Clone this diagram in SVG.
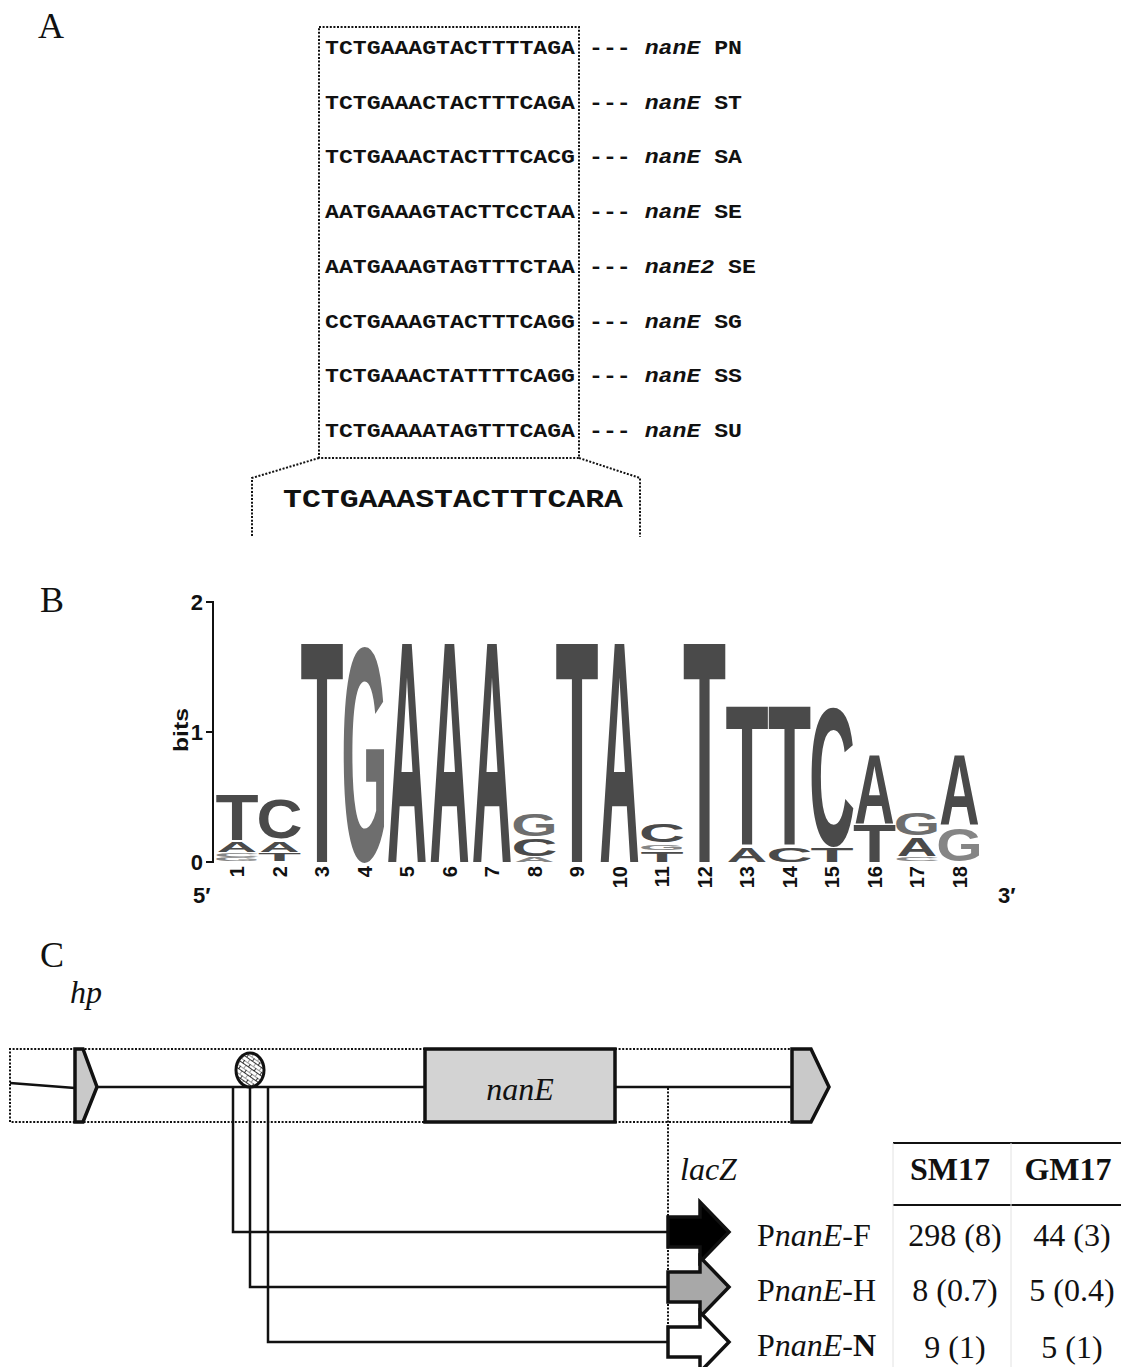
<svg xmlns="http://www.w3.org/2000/svg" width="1121" height="1367" viewBox="0 0 1121 1367">
<style>
.seq{font-family:"Liberation Mono","Courier New",monospace;font-weight:bold;font-size:19.5px;fill:#111}
.gene{font-style:italic}
.plbl{font-family:"Liberation Serif","Times New Roman",serif;font-size:36px;fill:#111}
.logo{font-family:"Liberation Sans",Arial,sans-serif;font-weight:bold;font-size:100px;text-anchor:middle}
.dk{fill:#4a4a4a}
.gg{fill:#6e6e6e}
.gl{fill:#858585}
.ax{font-family:"Liberation Sans",Arial,sans-serif;font-weight:bold;fill:#111}
.ser{font-family:"Liberation Serif","Times New Roman",serif;font-size:32px;fill:#111}
.dot{stroke:#111;stroke-width:2;stroke-dasharray:2 1.6;fill:none}
.ln{stroke:#111;stroke-width:2.5;fill:none}
.box{stroke:#111;stroke-width:3.5;stroke-linejoin:miter}
</style>
<defs>
<pattern id="hatch" patternUnits="userSpaceOnUse" width="7" height="7" patternTransform="rotate(35)">
<rect width="7" height="7" fill="#fff"/>
<path d="M0,0 H7 M3.5,0 V3.5 M0,3.5 H7 M0,3.5 V7" stroke="#222" stroke-width="0.9"/>
</pattern>
</defs>

<!-- Panel A -->
<g id="panelA">
<text class="plbl" x="38" y="38">A</text>
<rect class="dot" x="319" y="27" width="260" height="431"/>
<polyline class="dot" points="319,458 252,478 252,537"/>
<polyline class="dot" points="579,458 640,478 640,537"/>
<g id="row1" class="seq"><text x="325" y="54" textLength="250" lengthAdjust="spacingAndGlyphs">TCTGAAAGTACTTTTAGA</text><text x="589" y="54" textLength="41.7" lengthAdjust="spacingAndGlyphs">---</text><text class="gene" x="644.7" y="54" textLength="55.6" lengthAdjust="spacingAndGlyphs">nanE</text><text x="714.2" y="54" textLength="27.8" lengthAdjust="spacingAndGlyphs">PN</text></g>
<g id="row2" class="seq"><text x="325" y="108.7" textLength="250" lengthAdjust="spacingAndGlyphs">TCTGAAACTACTTTCAGA</text><text x="589" y="108.7" textLength="41.7" lengthAdjust="spacingAndGlyphs">---</text><text class="gene" x="644.7" y="108.7" textLength="55.6" lengthAdjust="spacingAndGlyphs">nanE</text><text x="714.2" y="108.7" textLength="27.8" lengthAdjust="spacingAndGlyphs">ST</text></g>
<g id="row3" class="seq"><text x="325" y="163.4" textLength="250" lengthAdjust="spacingAndGlyphs">TCTGAAACTACTTTCACG</text><text x="589" y="163.4" textLength="41.7" lengthAdjust="spacingAndGlyphs">---</text><text class="gene" x="644.7" y="163.4" textLength="55.6" lengthAdjust="spacingAndGlyphs">nanE</text><text x="714.2" y="163.4" textLength="27.8" lengthAdjust="spacingAndGlyphs">SA</text></g>
<g id="row4" class="seq"><text x="325" y="218.1" textLength="250" lengthAdjust="spacingAndGlyphs">AATGAAAGTACTTCCTAA</text><text x="589" y="218.1" textLength="41.7" lengthAdjust="spacingAndGlyphs">---</text><text class="gene" x="644.7" y="218.1" textLength="55.6" lengthAdjust="spacingAndGlyphs">nanE</text><text x="714.2" y="218.1" textLength="27.8" lengthAdjust="spacingAndGlyphs">SE</text></g>
<g id="row5" class="seq"><text x="325" y="272.8" textLength="250" lengthAdjust="spacingAndGlyphs">AATGAAAGTAGTTTCTAA</text><text x="589" y="272.8" textLength="41.7" lengthAdjust="spacingAndGlyphs">---</text><text class="gene" x="644.7" y="272.8" textLength="69.5" lengthAdjust="spacingAndGlyphs">nanE2</text><text x="728.1" y="272.8" textLength="27.8" lengthAdjust="spacingAndGlyphs">SE</text></g>
<g id="row6" class="seq"><text x="325" y="327.5" textLength="250" lengthAdjust="spacingAndGlyphs">CCTGAAAGTACTTTCAGG</text><text x="589" y="327.5" textLength="41.7" lengthAdjust="spacingAndGlyphs">---</text><text class="gene" x="644.7" y="327.5" textLength="55.6" lengthAdjust="spacingAndGlyphs">nanE</text><text x="714.2" y="327.5" textLength="27.8" lengthAdjust="spacingAndGlyphs">SG</text></g>
<g id="row7" class="seq"><text x="325" y="382.2" textLength="250" lengthAdjust="spacingAndGlyphs">TCTGAAACTATTTTCAGG</text><text x="589" y="382.2" textLength="41.7" lengthAdjust="spacingAndGlyphs">---</text><text class="gene" x="644.7" y="382.2" textLength="55.6" lengthAdjust="spacingAndGlyphs">nanE</text><text x="714.2" y="382.2" textLength="27.8" lengthAdjust="spacingAndGlyphs">SS</text></g>
<g id="row8" class="seq"><text x="325" y="436.9" textLength="250" lengthAdjust="spacingAndGlyphs">TCTGAAAATAGTTTCAGA</text><text x="589" y="436.9" textLength="41.7" lengthAdjust="spacingAndGlyphs">---</text><text class="gene" x="644.7" y="436.9" textLength="55.6" lengthAdjust="spacingAndGlyphs">nanE</text><text x="714.2" y="436.9" textLength="27.8" lengthAdjust="spacingAndGlyphs">SU</text></g>
<g id="consensus"><text class="seq" style="font-size:26px" x="283" y="507" textLength="340" lengthAdjust="spacingAndGlyphs">TCTGAAASTACTTTCARA</text></g>
</g>

<!-- Panel B -->
<g id="panelB">
<text class="plbl" x="40" y="612">B</text>
<path d="M206,602 H213 V862 H206 M206,732 H213" stroke="#111" stroke-width="2" fill="none"/>
<text class="ax" x="203" y="610" font-size="22" text-anchor="end">2</text>
<text class="ax" x="203" y="740" font-size="22" text-anchor="end">1</text>
<text class="ax" x="203" y="870" font-size="22" text-anchor="end">0</text>
<text class="ax" font-size="20" text-anchor="middle" transform="translate(188,730) rotate(-90)" textLength="44" lengthAdjust="spacingAndGlyphs">bits</text>
<text class="ax" x="193" y="903" font-size="22">5′</text>
<text class="ax" x="998" y="903" font-size="22">3′</text>
<g id="logo" class="logo">
<text class="dk" transform="translate(237,840) scale(0.7055,0.642)">T</text>
<text class="dk" transform="translate(237,852) scale(0.5587,0.140)">A</text>
<text class="gl" transform="translate(237,857) scale(0.637,0.054)">C</text>
<text class="gl" transform="translate(237,861) scale(0.597,0.054)">G</text>
<text class="dk" transform="translate(279.5,838) scale(0.637,0.562)">C</text>
<text class="dk" transform="translate(279.5,852) scale(0.5587,0.154)">A</text>
<text class="dk" transform="translate(279.5,861) scale(0.7055,0.112)">T</text>
<text class="dk" transform="translate(322,862) scale(0.7055,3.17)">T</text>
<text class="gg" transform="translate(364.5,860) scale(0.597,3.05)">G</text>
<text class="dk" transform="translate(407,862) scale(0.5587,3.17)">A</text>
<text class="dk" transform="translate(449.5,862) scale(0.5587,3.17)">A</text>
<text class="dk" transform="translate(492,862) scale(0.5587,3.17)">A</text>
<text class="gg" transform="translate(534.5,836) scale(0.597,0.321)">G</text>
<text class="dk" transform="translate(534.5,856) scale(0.637,0.241)">C</text>
<text class="gl" transform="translate(534.5,862) scale(0.5587,0.07)">A</text>
<text class="dk" transform="translate(577,862) scale(0.7055,3.17)">T</text>
<text class="dk" transform="translate(619.5,862) scale(0.5587,3.17)">A</text>
<text class="dk" transform="translate(662,842) scale(0.637,0.254)">C</text>
<text class="gl" transform="translate(662,850) scale(0.597,0.08)">G</text>
<text class="dk" transform="translate(662,862) scale(0.7055,0.14)">T</text>
<text class="dk" transform="translate(704.5,862) scale(0.7055,3.17)">T</text>
<text class="dk" transform="translate(747,845) scale(0.7055,2.0)">T</text>
<text class="dk" transform="translate(747,862) scale(0.5587,0.21)">A</text>
<text class="dk" transform="translate(789.5,845) scale(0.7055,2.0)">T</text>
<text class="dk" transform="translate(789.5,862) scale(0.637,0.20)">C</text>
<text class="dk" transform="translate(832,845) scale(0.637,1.97)">C</text>
<text class="dk" transform="translate(832,862) scale(0.7055,0.21)">T</text>
<text class="dk" transform="translate(874.5,823) scale(0.5587,0.98)">A</text>
<text class="dk" transform="translate(874.5,862) scale(0.7055,0.53)">T</text>
<text class="gg" transform="translate(917,835) scale(0.597,0.31)">G</text>
<text class="dk" transform="translate(917,856) scale(0.5587,0.265)">A</text>
<text class="gl" transform="translate(917,861) scale(0.637,0.054)">C</text>
<text class="dk" transform="translate(959.5,825) scale(0.5587,1.0)">A</text>
<text class="gl" transform="translate(959.5,861) scale(0.597,0.47)">G</text>
</g>
<g id="positions" class="ax" font-size="20" text-anchor="end">
<text transform="translate(244,866) rotate(-90)">1</text>
<text transform="translate(286.5,866) rotate(-90)">2</text>
<text transform="translate(329,866) rotate(-90)">3</text>
<text transform="translate(371.5,866) rotate(-90)">4</text>
<text transform="translate(414,866) rotate(-90)">5</text>
<text transform="translate(456.5,866) rotate(-90)">6</text>
<text transform="translate(499,866) rotate(-90)">7</text>
<text transform="translate(541.5,866) rotate(-90)">8</text>
<text transform="translate(584,866) rotate(-90)">9</text>
<text transform="translate(626.5,866) rotate(-90)">10</text>
<text transform="translate(669,866) rotate(-90)">11</text>
<text transform="translate(711.5,866) rotate(-90)">12</text>
<text transform="translate(754,866) rotate(-90)">13</text>
<text transform="translate(796.5,866) rotate(-90)">14</text>
<text transform="translate(839,866) rotate(-90)">15</text>
<text transform="translate(881.5,866) rotate(-90)">16</text>
<text transform="translate(924,866) rotate(-90)">17</text>
<text transform="translate(966.5,866) rotate(-90)">18</text>
</g>
</g>

<!-- Panel C -->
<text class="plbl" x="40" y="967">C</text>
<text class="ser" x="70" y="1003" font-style="italic">hp</text>

<g id="connectors">
<polyline class="dot" points="425,1049 10,1049 10,1122 425,1122"/>
<path class="dot" d="M615,1049 H792 M615,1122 H792"/>
<path class="ln" d="M10,1083 L75,1088 M97,1087 H425 M615,1087 H792"/>
<path class="dot" d="M668,1088 V1330"/>
<path class="ln" d="M233,1088 V1232 H668 M250,1088 V1287 H668 M268,1088 V1342 H668"/>
</g>

<g id="hp"><polygon class="box" fill="#c9c9c9" points="75,1049 83,1049 97,1087 83,1122 75,1122"/></g>
<g id="site"><ellipse cx="250" cy="1070" rx="14" ry="17" fill="url(#hatch)" stroke="#111" stroke-width="3"/></g>
<g id="nanE"><rect class="box" x="425" y="1049" width="190" height="73" fill="#d3d3d3"/><text class="ser" x="520" y="1100" text-anchor="middle" font-style="italic" font-size="36">nanE</text></g>
<g id="nextgene"><polygon class="box" fill="#c9c9c9" points="792,1049 811,1049 829,1087 811,1122 792,1122"/></g>
<text class="ser" x="680" y="1180" font-style="italic">lacZ</text>

<g id="PnanE-F"><polygon class="box" fill="#000" points="668,1217 700,1217 700,1202 729,1232 700,1262 700,1247 668,1247"/></g>
<g id="PnanE-H"><polygon class="box" fill="#a8a8a8" points="668,1272 700,1272 700,1257 729,1287 700,1317 700,1302 668,1302"/></g>
<g id="PnanE-N"><polygon class="box" fill="#fff" points="668,1327 700,1327 700,1312 729,1342 700,1372 700,1357 668,1357"/></g>

<g id="table">
<path d="M893,1143 H1121 M893,1205 H1121" stroke="#111" stroke-width="2.2"/>
<path d="M893,1143 V1367 M1011,1143 V1367" stroke="#e2e2e2" stroke-width="1"/>
<text class="ser" x="950" y="1180" text-anchor="middle" font-weight="bold" font-size="30">SM17</text>
<text class="ser" x="1068" y="1180" text-anchor="middle" font-weight="bold" font-size="30">GM17</text>
<text class="ser" x="757" y="1246">P<tspan font-style="italic">nanE</tspan>-F</text>
<text class="ser" x="757" y="1301">P<tspan font-style="italic">nanE</tspan>-H</text>
<text class="ser" x="757" y="1356">P<tspan font-style="italic">nanE</tspan>-<tspan font-weight="bold">N</tspan></text>
<text class="ser" x="955" y="1246" text-anchor="middle">298 (8)</text>
<text class="ser" x="1072" y="1246" text-anchor="middle">44 (3)</text>
<text class="ser" x="955" y="1301" text-anchor="middle">8 (0.7)</text>
<text class="ser" x="1072" y="1301" text-anchor="middle">5 (0.4)</text>
<text class="ser" x="955" y="1358" text-anchor="middle">9 (1)</text>
<text class="ser" x="1072" y="1358" text-anchor="middle">5 (1)</text>
</g>
</svg>
